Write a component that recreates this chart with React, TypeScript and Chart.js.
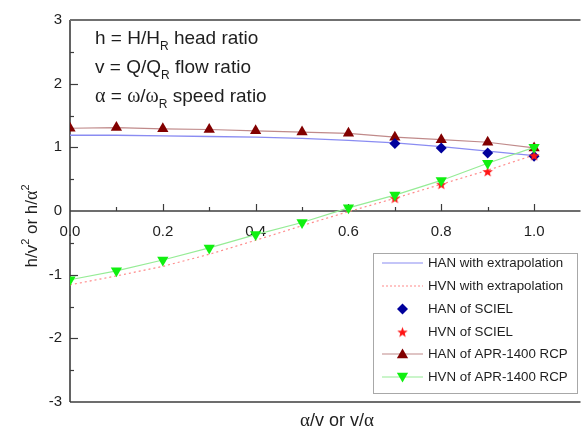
import React, { useEffect, useRef } from 'react';
import { Chart, registerables } from 'chart.js';

Chart.register(...registerables);

// ---- data ----
const xValues = [0, 0.1, 0.2, 0.3, 0.4, 0.5, 0.6, 0.7, 0.8, 0.9, 1.0];
const hanExtrapolation = [1.19, 1.19, 1.18, 1.17, 1.16, 1.14, 1.11, 1.07, 1.01, 0.94, 0.87];
const hvnExtrapolation = [-1.16, -1.02, -0.87, -0.68, -0.46, -0.23, -0.01, 0.2, 0.42, 0.64, 0.88];
const scielX = [0.7, 0.8, 0.9, 1.0];
const hanSciel = [1.06, 0.99, 0.91, 0.86];
const hvnSciel = [0.2, 0.42, 0.62, 0.87];
const hanApr = [1.3, 1.31, 1.29, 1.28, 1.26, 1.24, 1.22, 1.16, 1.12, 1.08, 0.99];
const hvnApr = [-1.08, -0.94, -0.77, -0.58, -0.37, -0.18, 0.05, 0.25, 0.48, 0.75, 1.0];

const xTickValues = [0, 0.2, 0.4, 0.6, 0.8, 1.0];
const xMinorTicks = [0.1, 0.2, 0.3, 0.4, 0.5, 0.6, 0.7, 0.8, 0.9, 1.0];
const yTickValues = [-3, -2, -1, 0, 1, 2, 3];
const yMinorTicks = [-2.5, -2, -1.5, -1, -0.5, 0.5, 1, 1.5, 2, 2.5];

const legendLabels = [
  'HAN with extrapolation',
  'HVN with extrapolation',
  'HAN of SCIEL',
  'HVN of SCIEL',
  'HAN of APR-1400 RCP',
  'HVN of APR-1400 RCP',
];

const SANS = "'Liberation Sans', Arial, sans-serif";
const SERIF = "'Liberation Serif', 'DejaVu Serif', serif";

const C_BLUE_LINE = '#8a8cf2';
const C_PINK_LINE = '#ff8a8a';
const C_BROWN_LINE = '#c08a8a';
const C_GREEN_LINE = '#96ec96';
const C_NAVY = '#00009c';
const C_RED = '#ff1414';
const C_DARKRED = '#820000';
const C_GREEN = '#10f010';
const C_AXIS = '#3c3c3c';
const C_TEXT = '#1e1e1e';

function pts(xs: number[], ys: number[]) {
  return xs.map((x, i) => ({ x, y: ys[i] }));
}

function makeStar(color: string, outer: number) {
  const size = Math.ceil(outer * 2 + 2);
  const c = document.createElement('canvas');
  c.width = size;
  c.height = size;
  const g = c.getContext('2d')!;
  const cx = size / 2;
  const cy = size / 2 + 0.5;
  const inner = outer * 0.42;
  g.beginPath();
  for (let i = 0; i < 10; i++) {
    const r = i % 2 === 0 ? outer : inner;
    const a = (Math.PI / 5) * i;
    const px = cx + Math.sin(a) * r;
    const py = cy - Math.cos(a) * r;
    if (i === 0) g.moveTo(px, py);
    else g.lineTo(px, py);
  }
  g.closePath();
  g.fillStyle = color;
  g.fill();
  return c;
}

type Seg = { t: string; font: string; dy?: number };

function segsWidth(ctx: CanvasRenderingContext2D, segs: Seg[]) {
  let w = 0;
  for (const s of segs) {
    ctx.font = s.font;
    w += ctx.measureText(s.t).width;
  }
  return w;
}

function drawSegs(ctx: CanvasRenderingContext2D, segs: Seg[], x: number, y: number) {
  let cx = x;
  for (const s of segs) {
    ctx.font = s.font;
    ctx.fillText(s.t, cx, y + (s.dy || 0));
    cx += ctx.measureText(s.t).width;
  }
}

function triangle(ctx: CanvasRenderingContext2D, x: number, y: number, r: number, rotDeg: number, color: string) {
  let a = (rotDeg * Math.PI) / 180;
  ctx.beginPath();
  for (let i = 0; i < 3; i++) {
    const px = x + Math.sin(a) * r;
    const py = y - Math.cos(a) * r;
    if (i === 0) ctx.moveTo(px, py);
    else ctx.lineTo(px, py);
    a += (2 * Math.PI) / 3;
  }
  ctx.closePath();
  ctx.fillStyle = color;
  ctx.fill();
}

function diamond(ctx: CanvasRenderingContext2D, x: number, y: number, r: number, color: string) {
  ctx.beginPath();
  ctx.moveTo(x, y - r);
  ctx.lineTo(x + r, y);
  ctx.lineTo(x, y + r);
  ctx.lineTo(x - r, y);
  ctx.closePath();
  ctx.fillStyle = color;
  ctx.fill();
}

export default function App() {
  const canvasRef = useRef<HTMLCanvasElement | null>(null);

  useEffect(() => {
    document.body.style.margin = '0';
    const canvas = canvasRef.current;
    if (!canvas) return;
    const star = makeStar(C_RED, 5.5);

    const decorations = {
      id: 'decorations',
      beforeDatasetsDraw(chart: any) {
        const ctx: CanvasRenderingContext2D = chart.ctx;
        const { left, right, top, bottom } = chart.chartArea;
        const xs = chart.scales.x;
        const ys = chart.scales.y;
        const y0 = ys.getPixelForValue(0);
        ctx.save();
        ctx.strokeStyle = C_AXIS;
        ctx.lineWidth = 1.6;
        ctx.beginPath();
        ctx.moveTo(left, top);
        ctx.lineTo(left, bottom);
        ctx.stroke();
        ctx.beginPath();
        ctx.moveTo(left, bottom);
        ctx.lineTo(right, bottom);
        ctx.stroke();
        ctx.beginPath();
        ctx.moveTo(left, y0);
        ctx.lineTo(right, y0);
        ctx.stroke();
        ctx.strokeStyle = '#707070';
        ctx.lineWidth = 2;
        ctx.beginPath();
        ctx.moveTo(left, top);
        ctx.lineTo(right, top);
        ctx.stroke();
        ctx.strokeStyle = C_AXIS;
        ctx.lineWidth = 1.2;
        for (const v of yMinorTicks) {
          const py = Math.round(ys.getPixelForValue(v)) + 0.5;
          const len = Number.isInteger(v) ? 8 : 4;
          ctx.beginPath();
          ctx.moveTo(left, py);
          ctx.lineTo(left + len, py);
          ctx.stroke();
        }
        for (const v of xMinorTicks) {
          const px = Math.round(xs.getPixelForValue(v)) + 0.5;
          const major = Math.abs(Math.round(v * 10) % 2) === 0;
          const len = major ? 7 : 4;
          ctx.beginPath();
          ctx.moveTo(px, y0);
          ctx.lineTo(px, y0 - len);
          ctx.stroke();
        }
        ctx.restore();
      },
      afterDraw(chart: any) {
        const ctx: CanvasRenderingContext2D = chart.ctx;
        ctx.save();
        ctx.fillStyle = C_TEXT;
        ctx.textBaseline = 'alphabetic';
        ctx.textAlign = 'left';
        const big = `19px ${SANS}`;
        const bigSerif = `20px ${SERIF}`;
        const sub = `12px ${SANS}`;
        drawSegs(ctx, [
          { t: 'h = H/H', font: big },
          { t: 'R', font: sub, dy: 6 },
          { t: ' head ratio', font: big },
        ], 95, 44);
        drawSegs(ctx, [
          { t: 'v = Q/Q', font: big },
          { t: 'R', font: sub, dy: 6 },
          { t: ' flow ratio', font: big },
        ], 95, 73);
        drawSegs(ctx, [
          { t: '\u03b1', font: bigSerif },
          { t: ' = ', font: big },
          { t: '\u03c9', font: bigSerif },
          { t: '/', font: big },
          { t: '\u03c9', font: bigSerif },
          { t: 'R', font: sub, dy: 6 },
          { t: ' speed ratio', font: big },
        ], 95, 102);

        const tFont = `18px ${SANS}`;
        const tSerif = `19px ${SERIF}`;
        const xt: Seg[] = [
          { t: '\u03b1', font: tSerif },
          { t: '/v or v/', font: tFont },
          { t: '\u03b1', font: tSerif },
        ];
        const xw = segsWidth(ctx, xt);
        drawSegs(ctx, xt, 337 - xw / 2, 426);

        const ytFont = `17px ${SANS}`;
        const ytSerif = `18px ${SERIF}`;
        const supF = `11px ${SANS}`;
        const yt: Seg[] = [
          { t: 'h/v', font: ytFont },
          { t: '2', font: supF, dy: -8 },
          { t: ' or h/', font: ytFont },
          { t: '\u03b1', font: ytSerif },
          { t: '2', font: supF, dy: -8 },
        ];
        const yw = segsWidth(ctx, yt);
        ctx.save();
        ctx.translate(37, 226 + yw / 2);
        ctx.rotate(-Math.PI / 2);
        drawSegs(ctx, yt, 0, 0);
        ctx.restore();

        // legend
        const bx = 373.5, by = 253.5, bw = 204, bh = 140;
        ctx.fillStyle = '#ffffff';
        ctx.fillRect(bx, by, bw, bh);
        ctx.strokeStyle = '#a8a8a8';
        ctx.lineWidth = 1;
        ctx.strokeRect(bx, by, bw, bh);
        const rows = [263, 286, 309, 332, 354, 377];
        const lx0 = 382, lx1 = 423, mx = 402.5;
        ctx.lineWidth = 1.2;
        ctx.strokeStyle = C_BLUE_LINE;
        ctx.beginPath(); ctx.moveTo(lx0, rows[0]); ctx.lineTo(lx1, rows[0]); ctx.stroke();
        ctx.strokeStyle = C_PINK_LINE;
        ctx.setLineDash([2, 2]);
        ctx.beginPath(); ctx.moveTo(lx0, rows[1]); ctx.lineTo(lx1, rows[1]); ctx.stroke();
        ctx.setLineDash([]);
        diamond(ctx, mx, rows[2], 5.5, C_NAVY);
        ctx.drawImage(star, mx - star.width / 2, rows[3] - star.height / 2);
        ctx.strokeStyle = C_BROWN_LINE;
        ctx.beginPath(); ctx.moveTo(lx0, rows[4]); ctx.lineTo(lx1, rows[4]); ctx.stroke();
        triangle(ctx, mx, rows[4] + 1, 6.5, 0, C_DARKRED);
        ctx.strokeStyle = C_GREEN_LINE;
        ctx.beginPath(); ctx.moveTo(lx0, rows[5]); ctx.lineTo(lx1, rows[5]); ctx.stroke();
        triangle(ctx, mx, rows[5] - 1, 6.5, 180, C_GREEN);
        ctx.fillStyle = C_TEXT;
        ctx.font = `13.3px ${SANS}`;
        ctx.textBaseline = 'middle';
        legendLabels.forEach((lab, i) => ctx.fillText(lab, 428, rows[i] + 0.5));
        ctx.restore();
      },
    };

    const chart = new Chart(canvas, {
      type: 'scatter',
      data: {
        datasets: [
          {
            label: legendLabels[5],
            data: pts(xValues, hvnApr),
            showLine: true,
            borderColor: C_GREEN_LINE,
            borderWidth: 1.2,
            pointStyle: 'triangle',
            rotation: 180,
            pointRadius: 6.5,
            pointBackgroundColor: C_GREEN,
            pointBorderColor: C_GREEN,
            pointBorderWidth: 0,
            order: 0,
          },
          {
            label: legendLabels[3],
            data: pts(scielX, hvnSciel),
            showLine: false,
            pointStyle: star as any,
            pointRadius: 5.5,
            order: 1,
          },
          {
            label: legendLabels[2],
            data: pts(scielX, hanSciel),
            showLine: false,
            pointStyle: 'rectRot',
            pointRadius: 5.5,
            pointBackgroundColor: C_NAVY,
            pointBorderColor: C_NAVY,
            pointBorderWidth: 0,
            order: 2,
          },
          {
            label: legendLabels[4],
            data: pts(xValues, hanApr),
            showLine: true,
            borderColor: C_BROWN_LINE,
            borderWidth: 1.2,
            pointStyle: 'triangle',
            pointRadius: 6.5,
            pointBackgroundColor: C_DARKRED,
            pointBorderColor: C_DARKRED,
            pointBorderWidth: 0,
            order: 3,
          },
          {
            label: legendLabels[0],
            data: pts(xValues, hanExtrapolation),
            showLine: true,
            borderColor: C_BLUE_LINE,
            borderWidth: 1.3,
            pointRadius: 0,
            order: 4,
          },
          {
            label: legendLabels[1],
            data: pts(xValues, hvnExtrapolation),
            showLine: true,
            borderColor: C_PINK_LINE,
            borderWidth: 1.2,
            borderDash: [2, 3],
            pointRadius: 0,
            order: 5,
          },
        ],
      },
      options: {
        responsive: false,
        animation: false,
        devicePixelRatio: 1,
        layout: { padding: { top: 20, left: 0, right: 0, bottom: 0 } },
        plugins: {
          legend: { display: false },
          tooltip: { enabled: false },
        },
        scales: {
          x: {
            type: 'linear',
            min: 0,
            max: 1.1,
            position: { y: 0 } as any,
            grid: { display: false, drawTicks: false },
            border: { display: false },
            afterBuildTicks: (s: any) => {
              s.ticks = xTickValues.map((v) => ({ value: v }));
            },
            ticks: {
              padding: 12,
              autoSkip: false,
              maxRotation: 0,
              color: C_TEXT,
              font: { family: SANS, size: 15 },
              callback: (v: any) => Number(v).toFixed(1),
            },
          },
          x2: {
            type: 'linear',
            min: 0,
            max: 1.1,
            position: 'bottom',
            grid: { display: false, drawTicks: false },
            border: { display: false },
            ticks: { display: false },
            afterFit: (s: any) => {
              s.height = 25;
            },
          },
          y: {
            type: 'linear',
            min: -3,
            max: 3,
            position: 'left',
            grid: { display: false, drawTicks: false },
            border: { display: false },
            afterBuildTicks: (s: any) => {
              s.ticks = yTickValues.map((v) => ({ value: v }));
            },
            afterFit: (s: any) => {
              s.width = 70;
            },
            ticks: {
              padding: 8,
              color: C_TEXT,
              font: { family: SANS, size: 15 },
              callback: (v: any) => String(v),
            },
          },
        },
      },
      plugins: [decorations],
    } as any);

    return () => chart.destroy();
  }, []);

  return (
    <div style={{ width: 587, height: 427, background: '#fff' }}>
      <canvas ref={canvasRef} width={587} height={427} style={{ display: 'block' }} />
    </div>
  );
}
